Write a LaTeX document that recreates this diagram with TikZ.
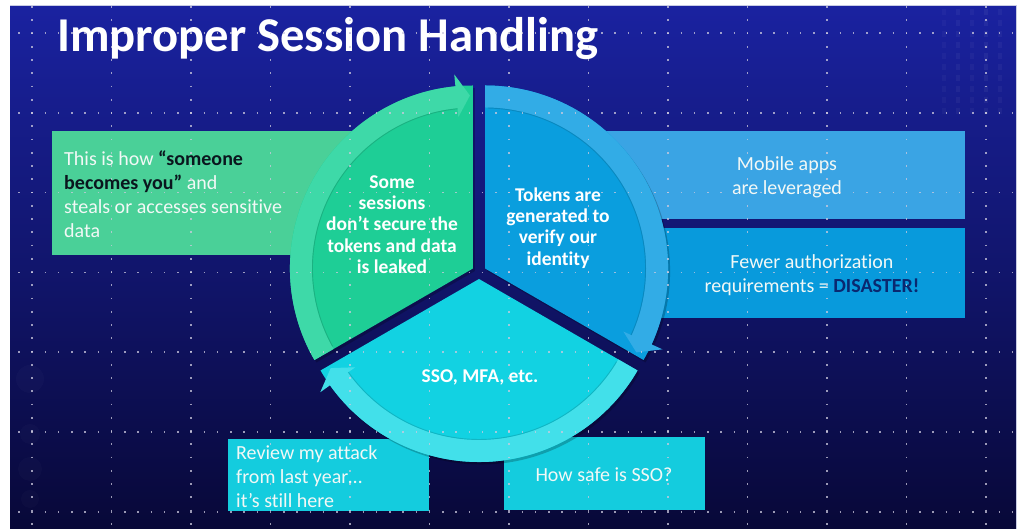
\documentclass[tikz,border=0pt]{standalone}
\usepackage{fontspec}
\setmainfont{Carlito}[Ligatures={NoCommon}]
\usetikzlibrary{calc}
\definecolor{bgtop}{RGB}{26,34,160}
\definecolor{bgmid}{RGB}{13,14,104}
\definecolor{bgbot}{RGB}{8,8,56}
\definecolor{bordercol}{RGB}{200,204,228}
\definecolor{gsec}{RGB}{30,206,150}
\definecolor{gband}{RGB}{62,217,168}
\definecolor{gbox}{RGB}{74,208,152}
\definecolor{bsec}{RGB}{10,158,222}
\definecolor{bband}{RGB}{50,172,230}
\definecolor{bboxA}{RGB}{58,164,228}
\definecolor{bboxB}{RGB}{8,154,220}
\definecolor{csec}{RGB}{18,210,226}
\definecolor{cband}{RGB}{66,224,234}
\definecolor{cbox}{RGB}{20,204,222}
\definecolor{txtlight}{RGB}{242,248,246}
\definecolor{darktxt}{RGB}{10,22,30}
\definecolor{disaster}{RGB}{10,40,112}
\definecolor{dotcol}{RGB}{205,202,222}
\tikzset{
  boxtext/.style={inner sep=0pt, text=txtlight, font=\fontsize{20}{24}\selectfont},
  segtext/.style={inner sep=0pt, text=white, align=center, font=\bfseries\fontsize{19.5}{21.3}\selectfont},
  dotline/.style={dotcol, opacity=0.75, line width=1.6pt, dash pattern=on 1.6pt off 11.65pt},
  segshadow/.style={black, opacity=0.22},
  bandedge/.style={line width=0.9pt, opacity=0.45}
}
\begin{document}
\begin{tikzpicture}[x=1pt,y=1pt]
\useasboundingbox (0,0) rectangle (1023,529);
\fill[white] (0,0) rectangle (1023,529);
\shade[top color=bgtop, middle color=bgmid, bottom color=bgbot] (10,0) rectangle (1016,523);
\draw[bordercol, line width=1pt] (10,523) -- (1016,523) -- (1016,0);
% faint background decorations
\foreach \xx/\op in {944/0.03,958/0.045,972/0.035,986/0.05,1000/0.04} {
  \draw[white, opacity=\op, line width=4pt, dash pattern=on 6pt off 5pt] (\xx,520) -- (\xx,410);
}
\foreach \yy/\rr in {150/14,95/10,60/12,30/9} {
  \fill[white, opacity=0.02] (30,\yy) circle (\rr);
}
% title
\node[anchor=base west, inner sep=0pt, text=white, font=\bfseries\fontsize{48.6}{56}\selectfont] (title) at (57,477) {Improper Session Handling};
% boxes
\fill[gbox] (52,274) rectangle (360,398);
\fill[bboxA] (605,310) rectangle (965,398);
\fill[bboxB] (605,211) rectangle (965,301);
\fill[cbox] (228,18) rectangle (429,90);
\fill[cbox] (504,19) rectangle (705,92);
% cycle centres
\coordinate (C) at (479,257);
\coordinate (Cg) at ($(C)+(150:7)$);
\coordinate (Cb) at ($(C)+(30:7)$);
\coordinate (Cc) at ($(C)+(270:7)$);
% shadows
\fill[segshadow] ($(Cg)+(2,-2.5)$) -- +(90:183) arc[start angle=90, end angle=210, radius=183] -- cycle;
\fill[segshadow] ($(Cb)+(2,-2.5)$) -- +(-30:183) arc[start angle=-30, end angle=90, radius=183] -- cycle;
\fill[segshadow] ($(Cc)+(2,-2.5)$) -- +(210:183) arc[start angle=210, end angle=330, radius=183] -- cycle;
% green segment
\fill[gsec] (Cg) -- ($(Cg)+(90:183)$) arc[start angle=90, end angle=210, radius=183] -- cycle;
\fill[gband] ($(Cg)+(210:183)$) arc[start angle=210, end angle=95.5, radius=183]
  -- ($(Cg)+(95.5:195)$) -- ($(Cg)+(91:173)$) -- ($(Cg)+(95.5:152)$)
  -- ($(Cg)+(95.5:161)$) arc[start angle=95.5, end angle=210, radius=161] -- cycle;
\draw[bandedge, gsec!70!black] ($(Cg)+(95.5:160.5)$) arc[start angle=95.5, end angle=209, radius=160.5];
% blue segment
\fill[bsec] (Cb) -- ($(Cb)+(-30:183)$) arc[start angle=-30, end angle=90, radius=183] -- cycle;
\fill[bband] ($(Cb)+(90:183)$) arc[start angle=90, end angle=-24.5, radius=183]
  -- ($(Cb)+(-24.5:195)$) -- ($(Cb)+(-29:173)$) -- ($(Cb)+(-24.5:152)$)
  -- ($(Cb)+(-24.5:161)$) arc[start angle=-24.5, end angle=90, radius=161] -- cycle;
\draw[bandedge, bsec!70!black] ($(Cb)+(-24.5:160.5)$) arc[start angle=-24.5, end angle=89, radius=160.5];
% cyan segment
\fill[csec] (Cc) -- ($(Cc)+(210:183)$) arc[start angle=210, end angle=330, radius=183] -- cycle;
\fill[cband] ($(Cc)+(330:183)$) arc[start angle=330, end angle=215.5, radius=183]
  -- ($(Cc)+(215.5:195)$) -- ($(Cc)+(211:173)$) -- ($(Cc)+(215.5:152)$)
  -- ($(Cc)+(215.5:161)$) arc[start angle=215.5, end angle=330, radius=161] -- cycle;
\draw[bandedge, csec!70!black] ($(Cc)+(215.5:160.5)$) arc[start angle=215.5, end angle=329, radius=160.5];
% segment texts
\node[segtext] (tg) at (392,304.4) {Some\\sessions\\don’t secure the\\tokens and data\\is leaked};
\node[segtext] (tb) at (558,301) {Tokens are\\generated to\\verify our\\identity};
\node[segtext] (tc) at (480,152) {SSO, MFA, etc.};
% box texts
\node[boxtext, anchor=west, align=left] (lg) at (64,334.5) {This is how \textbf{\color{darktxt}“someone}\\\textbf{\color{darktxt}becomes you”} and\\steals or accesses sensitive\\data};
\node[boxtext, align=center] (rt) at (787,352) {Mobile apps\\are leveraged};
\node[boxtext, align=center] (rb) at (812,254) {Fewer authorization\\requirements = \textbf{\color{disaster}DISASTER!}};
\node[boxtext, anchor=west, align=left] (bl) at (236,52.5) {Review my attack\\from last year…\\it’s still here};
\node[boxtext] (br) at (604,54) {How safe is SSO?};
% dotted grid overlay
\foreach \yy in {496,416.2,336.4,256.6,176.8,97,17.2} {
  \draw[dotline] (18,\yy) -- (1014,\yy);
}
\foreach \xx in {32,111.5,191,270.5,350,429.5,509,588.5,668,747.5,827,906.5,986} {
  \draw[dotline] (\xx,522.8) -- (\xx,0);
}
\end{tikzpicture}
\end{document}
